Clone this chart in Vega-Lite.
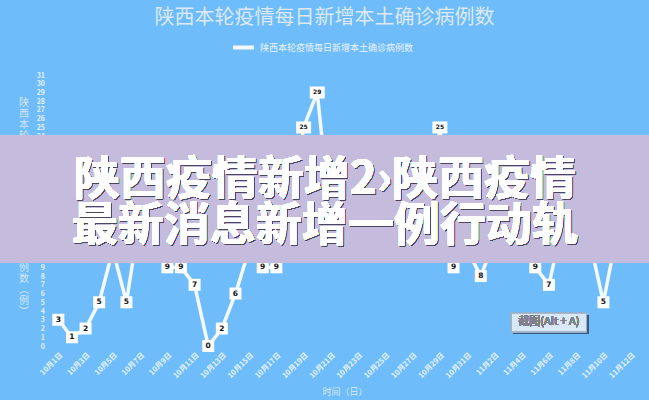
{
  "$schema": "https://vega.github.io/schema/vega-lite/v6.json",
  "width": 586,
  "height": 271,
  "autosize": {"type": "none"},
  "padding": {"left": 51.5, "top": 75, "right": 11.5, "bottom": 54},
  "background": "#6ebcf9",
  "config": {"view": {"stroke": null}, "font": "Noto Sans CJK SC"},
  "title": {
    "text": "陕西本轮疫情每日新增本土确诊病例数",
    "fontSize": 20,
    "fontWeight": "normal",
    "color": "#dce9f5",
    "font": "Noto Sans CJK SC",
    "frame": "group",
    "anchor": "middle",
    "dx": -20,
    "offset": 7
  },
  "data": {
    "values": [
      {"date": "10月1日", "v": 3},
      {"date": "10月2日", "v": 1},
      {"date": "10月3日", "v": 2},
      {"date": "10月4日", "v": 5},
      {"date": "10月5日", "v": 11},
      {"date": "10月6日", "v": 5},
      {"date": "10月7日", "v": 15},
      {"date": "10月8日", "v": 13},
      {"date": "10月9日", "v": 9},
      {"date": "10月10日", "v": 9},
      {"date": "10月11日", "v": 7},
      {"date": "10月12日", "v": 0},
      {"date": "10月13日", "v": 2},
      {"date": "10月14日", "v": 6},
      {"date": "10月15日", "v": 11},
      {"date": "10月16日", "v": 9},
      {"date": "10月17日", "v": 9},
      {"date": "10月18日", "v": 14},
      {"date": "10月19日", "v": 25},
      {"date": "10月20日", "v": 29},
      {"date": "10月21日", "v": 14},
      {"date": "10月22日", "v": 17},
      {"date": "10月23日", "v": 12},
      {"date": "10月24日", "v": 15},
      {"date": "10月25日", "v": 11},
      {"date": "10月26日", "v": 14},
      {"date": "10月27日", "v": 16},
      {"date": "10月28日", "v": 13},
      {"date": "10月29日", "v": 25},
      {"date": "10月30日", "v": 9},
      {"date": "10月31日", "v": 11},
      {"date": "11月1日", "v": 8},
      {"date": "11月2日", "v": 12},
      {"date": "11月3日", "v": 15},
      {"date": "11月4日", "v": 11},
      {"date": "11月5日", "v": 9},
      {"date": "11月6日", "v": 7},
      {"date": "11月7日", "v": 14},
      {"date": "11月8日", "v": 16},
      {"date": "11月9日", "v": 12},
      {"date": "11月10日", "v": 5},
      {"date": "11月11日", "v": 13}
    ]
  },
  "encoding": {
    "x": {
      "field": "date",
      "type": "ordinal",
      "sort": null,
      "scale": {
        "type": "point",
        "padding": 0.5,
        "domain": ["10月1日","10月2日","10月3日","10月4日","10月5日","10月6日","10月7日","10月8日","10月9日","10月10日","10月11日","10月12日","10月13日","10月14日","10月15日","10月16日","10月17日","10月18日","10月19日","10月20日","10月21日","10月22日","10月23日","10月24日","10月25日","10月26日","10月27日","10月28日","10月29日","10月30日","10月31日","11月1日","11月2日","11月3日","11月4日","11月5日","11月6日","11月7日","11月8日","11月9日","11月10日","11月11日","11月12日"]
      },
      "axis": {
        "values": ["10月1日","10月3日","10月5日","10月7日","10月9日","10月11日","10月13日","10月15日","10月17日","10月19日","10月21日","10月23日","10月25日","10月27日","10月29日","10月31日","11月2日","11月4日","11月6日","11月8日","11月10日","11月12日"],
        "labelAngle": -45,
        "labelFontSize": 7.5,
        "labelFontWeight": "bold",
        "labelColor": "#e8f3fc",
        "labelFont": "Noto Sans CJK SC",
        "labelOverlap": false,
        "labelPadding": 5,
        "ticks": false,
        "tickSize": 0,
        "domain": false,
        "grid": false,
        "title": "时间（日）",
        "titleFontSize": 9,
        "titleFontWeight": "normal",
        "titleColor": "#dbe9f6",
        "titlePadding": 8
      }
    },
    "y": {
      "field": "v",
      "type": "quantitative",
      "scale": {"domain": [0, 31], "nice": false, "zero": true},
      "axis": {
        "values": [0,1,2,3,4,5,6,7,8,9,10,11,12,13,14,15,16,17,18,19,20,21,22,23,24,25,26,27,28,29,30,31],
        "labelFontSize": 7,
        "labelFontWeight": "bold",
        "labelColor": "#e4f0fb",
        "labelOverlap": false,
        "labelPadding": 7,
        "ticks": false,
        "tickSize": 0,
        "domain": false,
        "grid": false,
        "title": ["陕","西","本","轮","疫","情","每","日","新","增","本","土","确","诊","病","例","数","︵","例","︶"],
        "titleAngle": 0,
        "titleAlign": "center",
        "titleBaseline": "top",
        "titleX": -28,
        "titleY": 22,
        "titleLineHeight": 11,
        "titleFontSize": 10,
        "titleFontWeight": "normal",
        "titleColor": "#d3e6f6"
      }
    }
  },
  "layer": [
    {
      "mark": {"type": "line", "strokeWidth": 3.5},
      "encoding": {
        "color": {
          "datum": "陕西本轮疫情每日新增本土确诊病例数",
          "scale": {"range": ["#f4f9fe"]},
          "legend": {
            "orient": "none",
            "legendX": 179.5,
            "legendY": -40,
            "title": null,
            "symbolType": "stroke",
            "symbolSize": 441,
            "symbolStrokeWidth": 4,
            "labelFontSize": 9,
            "labelColor": "#eaf3fb",
            "labelFont": "Noto Sans CJK SC",
            "labelOffset": 4
          }
        }
      }
    },
    {
      "mark": {"type": "point", "filled": true, "fill": "#ffffff", "opacity": 1, "size": 144, "strokeWidth": 0},
      "encoding": {
        "shape": {"condition": {"test": "datum.v >= 10", "value": "M-1.25,-1H1.25V1H-1.25Z"}, "value": "square"}
      }
    },
    {
      "mark": {"type": "text", "fontWeight": "bold", "color": "#111111", "font": "DejaVu Sans", "baseline": "middle", "align": "center"},
      "encoding": {
        "text": {"field": "v", "type": "quantitative"},
        "size": {"condition": {"test": "datum.v >= 10", "value": 6}, "value": 7.5}
      }
    },
    {
      "mark": {"type": "rect", "fill": "#c5bcdd", "opacity": 1},
      "encoding": {
        "x": {"value": -52},
        "x2": {"value": 598},
        "y": {"datum": 24.05},
        "y2": {"datum": 9.5}
      }
    },
    {
      "mark": {"type": "text", "fontSize": 46, "fontWeight": "bold", "color": "#4a4660", "opacity": 0.45, "align": "center", "baseline": "middle", "font": "Noto Sans CJK SC", "dx": -5, "dy": 1},
      "encoding": {
        "x": {"datum": "10月21日", "type": "ordinal"},
        "y": {"datum": 19.0},
        "text": {"value": "陕西疫情新增2›陕西疫情"}
      }
    },
    {
      "mark": {"type": "text", "fontSize": 46, "fontWeight": "bold", "color": "#4a4660", "opacity": 0.45, "align": "center", "baseline": "middle", "font": "Noto Sans CJK SC", "dx": -5, "dy": 1},
      "encoding": {
        "x": {"datum": "10月21日", "type": "ordinal"},
        "y": {"datum": 13.7},
        "text": {"value": "最新消息新增一例行动轨"}
      }
    },
    {
      "mark": {"type": "text", "fontSize": 46, "fontWeight": "bold", "color": "#ffffff", "align": "center", "baseline": "middle", "font": "Noto Sans CJK SC", "dx": -6},
      "encoding": {
        "x": {"datum": "10月21日", "type": "ordinal"},
        "y": {"datum": 19.0},
        "text": {"value": "陕西疫情新增2›陕西疫情"}
      }
    },
    {
      "mark": {"type": "text", "fontSize": 46, "fontWeight": "bold", "color": "#ffffff", "align": "center", "baseline": "middle", "font": "Noto Sans CJK SC", "dx": -6},
      "encoding": {
        "x": {"datum": "10月21日", "type": "ordinal"},
        "y": {"datum": 13.7},
        "text": {"value": "最新消息新增一例行动轨"}
      }
    },
    {
      "mark": {"type": "point", "filled": true, "fill": "#3a5a80", "opacity": 0.2, "size": 400, "strokeWidth": 0, "shape": "M-3.75,-0.92H3.75V0.92H-3.75Z", "xOffset": 2, "yOffset": 2},
      "encoding": {
        "x": {"datum": "11月6日", "type": "ordinal"},
        "y": {"datum": 2.69}
      }
    },
    {
      "mark": {"type": "point", "filled": true, "fill": "#d9e8f7", "stroke": "#9bb1c9", "strokeWidth": 1, "opacity": 1, "size": 400, "shape": "M-3.75,-0.92H3.75V0.92H-3.75Z"},
      "encoding": {
        "x": {"datum": "11月6日", "type": "ordinal"},
        "y": {"datum": 2.69}
      }
    },
    {
      "mark": {"type": "text", "fontSize": 11, "fontWeight": "normal", "color": "#7d828c", "align": "center", "baseline": "middle", "font": "Noto Sans CJK SC"},
      "encoding": {
        "x": {"datum": "11月6日", "type": "ordinal"},
        "y": {"datum": 2.69},
        "text": {"value": "截图(Alt + A)"}
      }
    }
  ]
}
